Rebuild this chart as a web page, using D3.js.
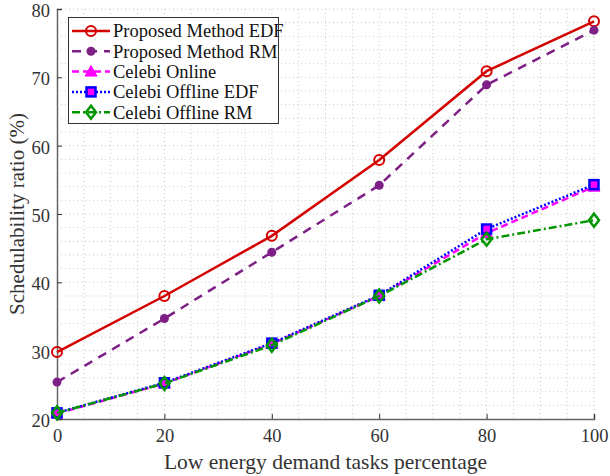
<!DOCTYPE html>
<html><head><meta charset="utf-8">
<script src="https://cdn.jsdelivr.net/npm/d3@7"></script>
<style>body{margin:0;background:#fff}svg{font-family:"Liberation Serif","Times New Roman",serif}</style>
</head><body><svg id="c" width="610" height="476"></svg>
<script>
const xValues = [0, 20, 40, 60, 80, 100];
const proposedEDF = [29.8, 38.0, 46.8, 57.9, 70.9, 78.2];
const proposedRM = [25.4, 34.7, 44.4, 54.2, 68.9, 76.9];
const celebiOnline = [20.8, 25.2, 31.0, 38.0, 47.2, 54.0];
const celebiOfflineEDF = [20.9, 25.3, 31.1, 38.1, 47.8, 54.3];
const celebiOfflineRM = [20.9, 25.2, 30.8, 38.0, 46.3, 49.1];
const xTicks = [0, 20, 40, 60, 80, 100];
const yTicks = [20, 30, 40, 50, 60, 70, 80];
const seriesNames = ["Proposed Method EDF","Proposed Method RM","Celebi Online","Celebi Offline EDF","Celebi Offline RM"];

const series = [
 {name:seriesNames[0], v:proposedEDF, color:"#d40000", dash:null, marker:"circleOpen"},
 {name:seriesNames[1], v:proposedRM, color:"#7e1f86", dash:"9,7", marker:"circleFilled"},
 {name:seriesNames[2], v:celebiOnline, color:"#ff00ff", dash:"7,4", marker:"triangle"},
 {name:seriesNames[3], v:celebiOfflineEDF, color:"#0000ff", dash:"2,2", marker:"square"},
 {name:seriesNames[4], v:celebiOfflineRM, color:"#009600", dash:"8,3,2,3", marker:"diamond"}
];

const svg = d3.select("#c");
const L=57, R=594, T=9, B=419;
const x = d3.scaleLinear().domain([0,100]).range([L,R]);
const y = d3.scaleLinear().domain([20,80]).range([B,T]);

// grid (major + minor dotted)
const g = svg.append("g");
const xg = d3.range(0,100.1,5), yg = d3.range(20,80.1,2);
g.selectAll(".vx").data(xg.filter(d=>d>0)).enter().append("line")
 .attr("x1",d=>x(d)).attr("x2",d=>x(d)).attr("y1",T).attr("y2",B)
 .attr("stroke","#c8c8c8").attr("stroke-width",1).attr("stroke-dasharray","1,3");
g.selectAll(".hy").data(yg.filter(d=>d>20)).enter().append("line")
 .attr("x1",L).attr("x2",R).attr("y1",d=>y(d)).attr("y2",d=>y(d))
 .attr("stroke","#c8c8c8").attr("stroke-width",1).attr("stroke-dasharray","1,3");

// axes
const axC="#666";
const xAxis = svg.append("g").attr("transform",`translate(0,${B})`)
 .call(d3.axisBottom(x).tickValues(xTicks).tickSize(-5).tickPadding(10).tickFormat(d3.format("d")));
const yAxis = svg.append("g").attr("transform",`translate(${L},0)`)
 .call(d3.axisLeft(y).tickValues(yTicks).tickSize(-5).tickPadding(7).tickFormat(d3.format("d")));
[xAxis,yAxis].forEach(a=>{
 a.select(".domain").attr("stroke",axC).attr("stroke-width",1.5);
 a.selectAll(".tick line").attr("stroke","#333");
 a.selectAll(".tick text").attr("fill","#333").style("font-size","18.5px").style("font-family","Liberation Serif");
});
xAxis.selectAll(".tick text").attr("dy","0.71em");
yAxis.selectAll(".tick text").attr("dy","0.4em");

// labels
svg.append("text").attr("x",(L+R)/2 - 0).attr("y",469).attr("text-anchor","middle")
 .attr("fill","#333").style("font-size","21.5px").text("Low energy demand tasks percentage");
svg.append("text").attr("transform",`translate(24,${(T+B)/2}) rotate(-90)`).attr("text-anchor","middle")
 .attr("fill","#333").style("font-size","21px").text("Schedulability ratio (%)");

function drawMarker(sel, s, cx, cy){
 const c=s.color;
 if(s.marker==="circleOpen") sel.append("circle").attr("cx",cx).attr("cy",cy).attr("r",5).attr("fill","none").attr("stroke",c).attr("stroke-width",2);
 else if(s.marker==="circleFilled") sel.append("circle").attr("cx",cx).attr("cy",cy).attr("r",4.5).attr("fill",c);
 else if(s.marker==="triangle") sel.append("path").attr("d",`M${cx},${cy-6}L${cx+6},${cy+4.5}L${cx-6},${cy+4.5}Z`).attr("fill",c).attr("stroke",c);
 else if(s.marker==="square") sel.append("rect").attr("x",cx-4.5).attr("y",cy-4.5).attr("width",9).attr("height",9).attr("fill","#ff00ff").attr("stroke",c).attr("stroke-width",2.5);
 else if(s.marker==="diamond") sel.append("path").attr("d",`M${cx},${cy-6.5}L${cx+5},${cy}L${cx},${cy+6.5}L${cx-5},${cy}Z`).attr("fill","none").attr("stroke",c).attr("stroke-width",2.5);
}

const line = d3.line().x((d,i)=>x(xValues[i])).y(d=>y(d));
series.forEach(s=>{
 const gg=svg.append("g");
 gg.append("path").attr("d",line(s.v)).attr("fill","none").attr("stroke",s.color)
  .attr("stroke-width",2.5).attr("stroke-dasharray",s.dash);
 s.v.forEach((v,i)=>drawMarker(gg,s,x(xValues[i]),y(v)));
});

// legend
const lg = svg.append("g");
lg.append("rect").attr("x",68.5).attr("y",17.5).attr("width",210).attr("height",106)
 .attr("fill","#fff").attr("stroke","#333").attr("stroke-width",1);
series.forEach((s,i)=>{
 const yy = 31 + i*20.3;
 lg.append("line").attr("x1",72).attr("x2",110).attr("y1",yy).attr("y2",yy)
  .attr("stroke",s.color).attr("stroke-width",2.5).attr("stroke-dasharray",s.dash);
 drawMarker(lg,s,91,yy);
 lg.append("text").attr("x",113).attr("y",yy).attr("dy","0.35em").attr("fill","#111")
  .style("font-size","18.5px").text(s.name);
});
</script></body></html>
